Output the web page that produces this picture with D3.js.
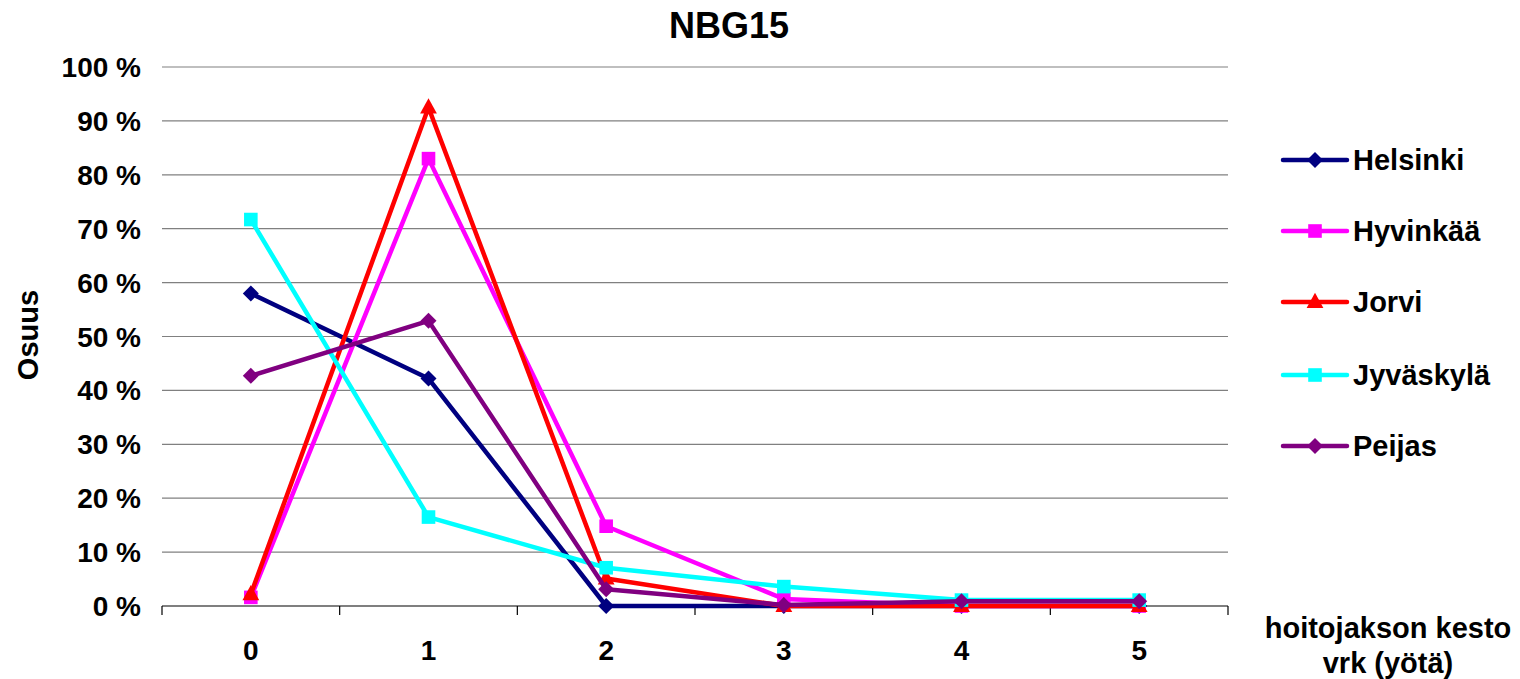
<!DOCTYPE html>
<html>
<head>
<meta charset="utf-8">
<script src="https://cdn.jsdelivr.net/npm/d3@7"></script>
<style>
  body { margin: 0; background: #fff; }
  text { font-family: "Liberation Sans", Arial, sans-serif; font-weight: bold; fill: #000; }
</style>
</head>
<body>
<svg id="chart" width="1520" height="679"></svg>
<script>
// categories (nights)
var days = ["0", "1", "2", "3", "4", "5"];
var yTicks = [0, 10, 20, 30, 40, 50, 60, 70, 80, 90, 100];

// series values, percent
var helsinki  = [58, 42.2, 0, 0, 0, 0];
var hyvinkaa  = [1.6, 83, 14.8, 1.3, 0, 0];
var jorvi     = [2.2, 92.5, 5.1, 0, 0, 0];
var jyvaskyla = [71.7, 16.5, 7.1, 3.6, 1.1, 1.1];
var peijas    = [42.7, 52.9, 3.1, 0.2, 0.9, 0.9];

var seriesNames = ["Helsinki", "Hyvinkää", "Jorvi", "Jyväskylä", "Peijas"];
var seriesColors = ["#000080", "#ff00ff", "#ff0000", "#00ffff", "#800080"];
var seriesMarkers = ["diamond", "square", "triangle", "square", "diamond"];
var seriesValues = [helsinki, hyvinkaa, jorvi, jyvaskyla, peijas];

var svg = d3.select("#chart");
var plotL = 162, plotR = 1228, plotT = 67, plotB = 606;

var x = d3.scaleBand().domain(days).range([plotL, plotR]);
var y = d3.scaleLinear().domain([0, 100]).range([plotB, plotT]);

// gridlines
svg.append("g").selectAll("line")
    .data(yTicks.filter(function(d){ return d > 0; }))
    .enter().append("line")
    .attr("x1", plotL).attr("x2", plotR)
    .attr("y1", function(d){ return y(d); })
    .attr("y2", function(d){ return y(d); })
    .attr("stroke", "#808080").attr("stroke-width", 1.2);

// y tick labels
svg.append("g").selectAll("text")
    .data(yTicks)
    .enter().append("text")
    .attr("x", 141)
    .attr("y", function(d){ return y(d) + 10; })
    .attr("text-anchor", "end")
    .style("font-size", "28px")
    .text(function(d){ return d + " %"; });

// x axis
var xAxis = d3.axisBottom(x).tickSize(0).tickFormat(function(d){ return d; });
var gx = svg.append("g").attr("transform", "translate(0," + plotB + ")").call(xAxis);
gx.select(".domain").remove();
gx.selectAll("text").attr("dy", null).attr("y", 54)
    .style("font-size", "28px").style("font-family", "Liberation Sans, Arial, sans-serif")
    .style("font-weight", "bold").attr("fill", "#000");
svg.append("line").attr("x1", plotL).attr("x2", plotR)
    .attr("y1", plotB).attr("y2", plotB)
    .attr("stroke", "#000").attr("stroke-width", 1.2);
var bounds = days.map(function(d){ return x(d); }).concat([plotR]);
svg.append("g").selectAll("line")
    .data(bounds).enter().append("line")
    .attr("x1", function(d){ return d; }).attr("x2", function(d){ return d; })
    .attr("y1", plotB).attr("y2", plotB + 9)
    .attr("stroke", "#000").attr("stroke-width", 1.2);

function markerPath(type, size){
    var s = size / 2;
    if (type === "diamond") return "M0," + (-s) + "L" + s + ",0L0," + s + "L" + (-s) + ",0Z";
    if (type === "square") return "M" + (-s*0.85) + "," + (-s*0.85) + "h" + (1.7*s) + "v" + (1.7*s) + "h" + (-1.7*s) + "Z";
    return "M0," + (-s*1.15) + "L" + (s*1.05) + "," + (s*0.75) + "L" + (-s*1.05) + "," + (s*0.75) + "Z";
}

var line = d3.line()
    .x(function(d, i){ return x(days[i]) + x.bandwidth() / 2; })
    .y(function(d){ return y(d); });

// draw lines in order
for (var k = 0; k < seriesValues.length; k++){
    var vals = seriesValues[k];
    var g = svg.append("g");
    g.append("path").datum(vals)
        .attr("d", line)
        .attr("fill", "none")
        .attr("stroke", seriesColors[k])
        .attr("stroke-width", 4.5)
        .attr("stroke-linejoin", "round");
    g.selectAll(".mk").data(vals).enter().append("path")
        .attr("class", "mk")
        .attr("transform", function(d, i){
            return "translate(" + (x(days[i]) + x.bandwidth() / 2) + "," + y(d) + ")";
        })
        .attr("d", markerPath(seriesMarkers[k], 16))
        .attr("fill", seriesColors[k]);
}

// title
svg.append("text").attr("x", 729).attr("y", 38)
    .attr("text-anchor", "middle").style("font-size", "36px").text("NBG15");

// y axis title
svg.append("text").attr("transform", "translate(38,335) rotate(-90)")
    .attr("text-anchor", "middle").style("font-size", "29px").text("Osuus");

// x axis title
svg.append("text").attr("x", 1388).attr("y", 638)
    .attr("text-anchor", "middle").style("font-size", "29px").text("hoitojakson kesto");
svg.append("text").attr("x", 1388).attr("y", 673)
    .attr("text-anchor", "middle").style("font-size", "29px").text("vrk (yötä)");

// legend
var legY = [160, 231, 302, 375, 446];
var leg = svg.append("g").selectAll("g")
    .data(seriesNames).enter().append("g")
    .attr("transform", function(d, i){ return "translate(1283," + legY[i] + ")"; });
leg.append("line").attr("x1", 0).attr("x2", 64).attr("y1", 0).attr("y2", 0)
    .attr("stroke", function(d, i){ return seriesColors[i]; })
    .attr("stroke-width", 4.5).attr("stroke-linecap", "round");
leg.append("path").attr("transform", "translate(32,0)")
    .attr("d", function(d, i){ return markerPath(seriesMarkers[i], 16); })
    .attr("fill", function(d, i){ return seriesColors[i]; });
leg.append("text").attr("x", 70).attr("y", 10)
    .style("font-size", "29px").text(function(d){ return d; });
</script>
</body>
</html>
